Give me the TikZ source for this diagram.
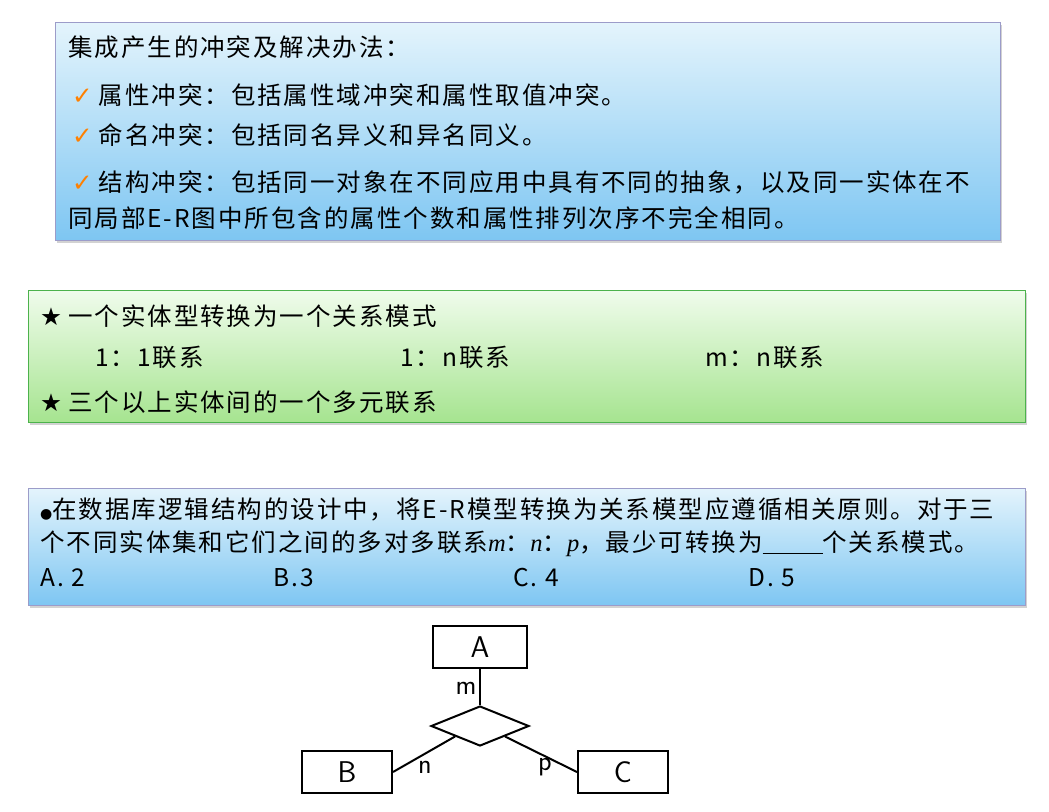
\documentclass[tikz,border=0pt]{standalone}
\usepackage{fontspec}
\setmainfont{Liberation Serif}
\newfontfamily\cjk[LetterSpace=8]{Noto Sans CJK SC}
\newfontfamily\sym{DejaVu Sans}
\usetikzlibrary{shapes.geometric,shadows}
\definecolor{bltop}{HTML}{E4F4FC}
\definecolor{blbot}{HTML}{7EC6F2}
\definecolor{grtop}{HTML}{F0FCEC}
\definecolor{grbot}{HTML}{A6E490}
\begin{document}
\begin{tikzpicture}[x=1pt,y=-1pt,
  bluebox/.style={draw=blue!30!gray!60,top color=bltop,bottom color=blbot,drop shadow={opacity=0.35,shadow xshift=2pt,shadow yshift=-3pt}},
  greenbox/.style={draw=green!40!gray,top color=grtop,bottom color=grbot,drop shadow={opacity=0.35,shadow xshift=2pt,shadow yshift=-3pt}},
  txt/.style={anchor=west,inner sep=0pt,font=\cjk\fontsize{24.5}{27}\selectfont},
  ent/.style={draw,line width=2pt,minimum width=90pt,minimum height=42pt,font=\sffamily\fontsize{30}{32}\selectfont},
  lbl/.style={font=\sffamily\fontsize{28}{30}\selectfont},
  ln/.style={line width=2pt}]
\useasboundingbox (0,0) rectangle (1049,811);
\fill[white] (0,0) rectangle (1049,811);
% box 1
\path[bluebox] (55,22) rectangle (1000,240);
\node[txt] (t1) at (68,47) {集成产生的冲突及解决办法：};
\node[txt] (t2) at (72,95) {{\sym\color{orange}✓}\hspace{6pt}属性冲突：包括属性域冲突和属性取值冲突。};
\node[txt] (t3) at (72,135) {{\sym\color{orange}✓}\hspace{6pt}命名冲突：包括同名异义和异名同义。};
\node[txt] (t4) at (72,182) {{\sym\color{orange}✓}\hspace{6pt}结构冲突：包括同一对象在不同应用中具有不同的抽象，以及同一实体在不};
\node[txt] (t5) at (68,218) {同局部E-R图中所包含的属性个数和属性排列次序不完全相同。};
% box 2
\path[greenbox] (28,290) rectangle (1025,422);
\node[txt] (s1) at (40,316) {{\sym ★}\hspace{6pt}一个实体型转换为一个关系模式};
\node[txt] (s2) at (95,357) {1：1联系};
\node[txt] (s3) at (400,357) {1：n联系};
\node[txt] (s4) at (705,357) {m：n联系};
\node[txt] (s5) at (40,402) {{\sym ★}\hspace{6pt}三个以上实体间的一个多元联系};
% box 3
\path[bluebox] (28,488) rectangle (1025,605);
\node[txt] (q1) at (40,509) {{\sym\fontsize{14}{16}\selectfont ●}在数据库逻辑结构的设计中，将E-R模型转换为关系模型应遵循相关原则。对于三};
\node[txt] (q2) at (40,544) {个不同实体集和它们之间的多对多联系{\rmfamily\itshape m}：{\rmfamily\itshape n}：{\rmfamily\itshape p}，最少可转换为\underline{\hspace{60pt}}个关系模式。};
\node[txt] (a1) at (40,578) {A. 2};
\node[txt] (a2) at (273,578) {B.3};
\node[txt] (a3) at (513,578) {C. 4};
\node[txt] (a4) at (748,578) {D. 5};
% ER diagram
\node[ent,minimum width=94pt] (A) at (480,647) {A};
\node[ent] (B) at (347,772) {B};
\node[ent] (C) at (623,772) {C};
\node[diamond,draw,line width=2pt,minimum width=98pt,minimum height=40pt,inner sep=0pt,aspect=2.45] (R) at (480,726) {};
\draw[ln] (A.south) -- (R.north);
\draw[ln] (B.east) -- (R.south west);
\draw[ln] (C.west) -- (R.south east);
\node[lbl] (m) at (466,688) {m};
\node[lbl] (n) at (425,767) {n};
\node[lbl] (p) at (545,767) {p};
\end{tikzpicture}
\end{document}
